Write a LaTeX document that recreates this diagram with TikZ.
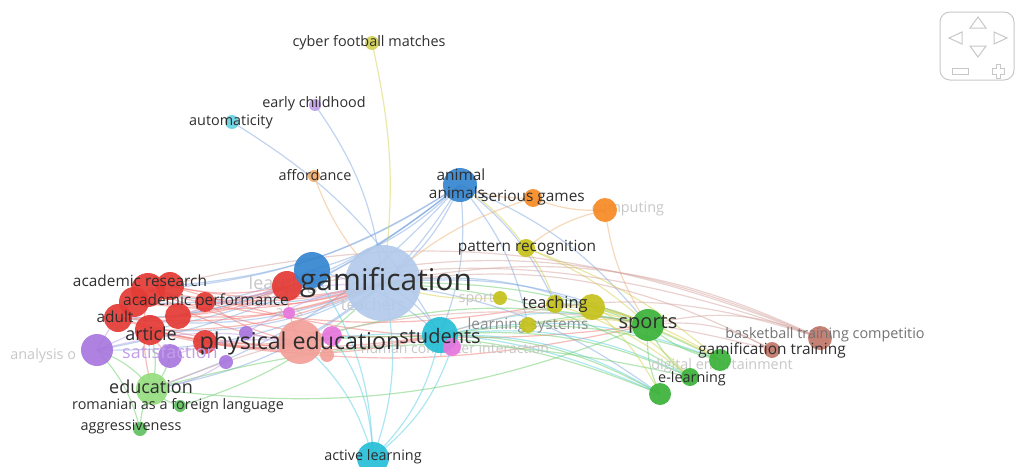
\documentclass[tikz,border=0pt]{standalone}
\usepackage{fontspec}
\setmainfont{Open Sans}
\usetikzlibrary{positioning}
\pgfdeclarelayer{edges}
\pgfdeclarelayer{faint}
\pgfdeclarelayer{front}
\pgfsetlayers{edges,faint,main,front}

\definecolor{vred}{RGB}{228,58,52}
\definecolor{vsalmon}{RGB}{243,160,152}
\definecolor{vlblue}{RGB}{178,202,234}
\definecolor{vblue}{RGB}{52,132,208}
\definecolor{vcyan}{RGB}{38,190,214}
\definecolor{vpink}{RGB}{232,118,222}
\definecolor{vpurple}{RGB}{168,118,222}
\definecolor{vorange}{RGB}{246,138,36}
\definecolor{vlorange}{RGB}{242,172,108}
\definecolor{vyellow}{RGB}{198,194,28}
\definecolor{vgreen}{RGB}{58,178,58}
\definecolor{vlgreen}{RGB}{150,220,128}
\definecolor{vbrown}{RGB}{192,118,104}
\definecolor{eblue}{RGB}{130,170,225}
\definecolor{ered}{RGB}{240,120,115}
\definecolor{ecyan}{RGB}{90,205,228}
\definecolor{egreen}{RGB}{110,205,110}
\definecolor{eyel}{RGB}{212,210,80}
\definecolor{eorange}{RGB}{238,178,118}
\definecolor{ebrown}{RGB}{212,165,160}
\definecolor{epurple}{RGB}{188,158,230}

\tikzstyle{bub} = [circle, inner sep=0pt, draw=none, fill opacity=0.92]
\tikzstyle{lab} = [inner sep=0pt, text=black!82, font=\fontsize{7.2}{8}\selectfont]
\tikzstyle{labm} = [lab, font=\fontsize{7.7}{9}\selectfont]
\tikzstyle{labl} = [lab, font=\fontsize{9}{10}\selectfont]
\tikzstyle{dim} = [lab, text=black!22]
\tikzstyle{edge} = [line width=0.6pt, draw opacity=0.5]
\tikzstyle{navline} = [draw=black!22, line width=0.5pt]

\begin{document}
\begin{tikzpicture}[x=0.5pt, y=-0.5pt]
\useasboundingbox (0,0) rectangle (1016,466);

% red cluster
\node (acres) [bub, fill=vred, minimum size=17pt] at (148,290) {};
\node (acres2) [bub, fill=vred, minimum size=14pt] at (170,286) {};
\node (acres3) [bub, fill=vred, minimum size=15pt] at (134,302) {};
\node (acperf) [bub, fill=vred, minimum size=10pt] at (205,302) {};
\node (red4) [bub, fill=vred, minimum size=13pt] at (178,316) {};
\node (adult) [bub, fill=vred, minimum size=14pt] at (118,318) {};
\node (article) [bub, fill=vred, minimum size=15pt] at (150,330) {};
\node (red6) [bub, fill=vred, minimum size=12pt] at (205,342) {};
\node (learn) [bub, fill=vred, minimum size=15pt] at (287,286) {};
\node (phyed) [bub, fill=vsalmon, minimum size=22pt] at (300,342) {};
\node (pink1) [bub, fill=vpink, minimum size=10pt] at (332,336) {};
\node (sal2) [bub, fill=vsalmon, minimum size=7pt] at (327,355) {};
% blue and cyan
\node (learnb) [bub, fill=vblue, minimum size=18pt] at (312,270) {};
\node (gam) [bub, fill=vlblue, minimum size=38pt] at (383,283) {};
\node (animal) [bub, fill=vblue, minimum size=17pt] at (460,185) {};
\node (stud) [bub, fill=vcyan, minimum size=18pt] at (440,335) {};
\node (actl) [bub, fill=vcyan, minimum size=16pt] at (373,458) {};
\node (autom) [bub, fill=vcyan!70, minimum size=7pt] at (232,122) {};
\node (hci) [bub, fill=vpink, minimum size=9pt] at (452,347) {};
\node (arcs) [bub, fill=vpink, minimum size=6pt] at (289,313) {};
% purple
\node (anal) [bub, fill=vpurple, minimum size=16pt] at (97,350) {};
\node (satis) [bub, fill=vpurple, minimum size=12pt] at (170,356) {};
\node (pur3) [bub, fill=vpurple, minimum size=7pt] at (246,333) {};
\node (pur4) [bub, fill=vpurple, minimum size=7pt] at (226,362) {};
\node (early) [bub, fill=vpurple!70, minimum size=6pt] at (315,105) {};
% orange and yellow
\node (afford) [bub, fill=vlorange, minimum size=6pt] at (314,176) {};
\node (serious) [bub, fill=vorange, minimum size=9pt] at (533,198) {};
\node (comput) [bub, fill=vorange, minimum size=12pt] at (605,210) {};
\node (cyber) [bub, fill=vyellow!75, minimum size=7pt] at (372,43) {};
\node (pattern) [bub, fill=vyellow, minimum size=9pt] at (526,248) {};
\node (sportsc) [bub, fill=vyellow, minimum size=7pt] at (500,298) {};
\node (lsys) [bub, fill=vyellow, minimum size=8pt] at (528,325) {};
\node (teach) [bub, fill=vyellow, minimum size=9pt] at (555,304) {};
\node (yel6) [bub, fill=vyellow, minimum size=13pt] at (592,307) {};
% green and brown
\node (sports) [bub, fill=vgreen, minimum size=16pt] at (648,325) {};
\node (educ) [bub, fill=vlgreen, minimum size=16pt] at (152,389) {};
\node (roman) [bub, fill=vgreen!80, minimum size=6pt] at (180,406) {};
\node (aggr) [bub, fill=vgreen!80, minimum size=7pt] at (140,429) {};
\node (gtrain) [bub, fill=vgreen, minimum size=11pt] at (720,360) {};
\node (elearn) [bub, fill=vgreen, minimum size=9pt] at (690,377) {};
\node (grn7) [bub, fill=vgreen, minimum size=11pt] at (660,394) {};
\node (basket) [bub, fill=vbrown, minimum size=12pt] at (820,338) {};
\node (gtrainb) [bub, fill=vbrown, minimum size=8pt] at (772,350) {};

\begin{pgfonlayer}{edges}
\foreach \a/\b in {animal/gam, animal/learnb, animal/acres, animal/article, animal/phyed, animal/stud,
    animal/sports, animal/teach, animal/educ, animal/anal, gam/acres, gam/article, gam/adult, gam/educ,
    gam/anal, learnb/acres3, learnb/adult, gam/sports, gam/yel6, early/gam, autom/stud, gam/grn7,
    animal/acres2, animal/red4, learnb/stud, gam/stud, animal/lsys}
  \draw[edge, eblue] (\a.center) to[bend left=14] (\b.center);
\foreach \a/\b in {acres/phyed, acres2/learn, adult/phyed, article/phyed, acres3/gam, red4/learn,
    acres/stud, article/stud, adult/learn, red6/phyed, acperf/gam, acres/educ, article/satis,
    learn/phyed, acres2/sports, acres/gam, acres2/gam, adult/gam, article/gam, acres/teach,
    article/sports, adult/stud, red4/gam, acres3/learn, acperf/phyed, red6/stud}
  \draw[edge, ered] (\a.center) to[bend right=12] (\b.center);
\foreach \a/\b in {stud/actl, gam/actl, phyed/actl, stud/elearn, stud/sports, stud/grn7, learnb/actl,
    pink1/actl, hci/actl, stud/gtrain, phyed/grn7}
  \draw[edge, ecyan] (\a.center) to[bend left=16] (\b.center);
\foreach \a/\b in {sports/gtrain, sports/elearn, sports/grn7, sports/teach, sports/lsys, educ/sports,
    educ/roman, educ/aggr, educ/anal, educ/article, educ/satis, grn7/stud, elearn/gam, gtrain/stud,
    grn7/phyed, elearn/educ, roman/gam, gtrain/gam, elearn/stud, sports/phyed, aggr/anal}
  \draw[edge, egreen] (\a.center) to[bend right=14] (\b.center);
\foreach \a/\b in {cyber/gam, pattern/sports, pattern/teach, animal/pattern, teach/sports,
    yel6/sports, yel6/grn7, lsys/sports, yel6/elearn, pattern/gtrain, sportsc/gam, teach/gtrain,
    yel6/gtrain, teach/elearn}
  \draw[edge, eyel] (\a.center) to[bend left=10] (\b.center);
\foreach \a/\b in {serious/comput, animal/serious, comput/sports, comput/pattern, afford/gam, serious/gam}
  \draw[edge, eorange] (\a.center) to[bend right=12] (\b.center);
\foreach \a/\b in {basket/sports, basket/gam, basket/acres, gtrainb/sports, basket/stud, gtrainb/educ,
    basket/learn, gtrainb/gam, basket/red4}
  \draw[edge, ebrown] (\a.center) to[bend right=18] (\b.center);
\foreach \a/\b in {anal/acres, anal/phyed, satis/phyed, pur3/gam, pur4/educ, anal/gam}
  \draw[edge, epurple] (\a.center) to[bend left=12] (\b.center);
\end{pgfonlayer}

\begin{pgfonlayer}{faint}
\node (learnt) [dim, font=\fontsize{9}{10}\selectfont] at (283,285) {learning};
\node (arcst) [dim] at (289,313) {arcs};
\node (teachers) [dim, font=\fontsize{8}{9}\selectfont] at (373,304) {teachers};
\node (sportst) [dim, anchor=east] at (505,299) {sport s};
\node (hcit) [dim, font=\fontsize{7}{8}\selectfont] at (455,350) {human computer interaction};
\node (comput-t) [dim] at (628,209) {computing};
\node (analt) [dim, anchor=west] at (10,356) {analysis o};
\node (digt) [dim] at (722,366) {digital entertainment};
\node (lsyst) [dim, text=black!45, font=\fontsize{7.7}{9}\selectfont] at (528,325) {learning systems};
\end{pgfonlayer}

\begin{pgfonlayer}{front}
\node (gamt) [lab, font=\fontsize{15}{16}\selectfont] at (386,283) {gamification};
\node (phyedt) [lab, font=\fontsize{11.6}{13}\selectfont] at (300,343) {physical education};
\node (studt) [lab, font=\fontsize{10}{11}\selectfont] at (440,336) {students};
\node (sportst2) [lab, font=\fontsize{10}{11}\selectfont] at (648,324) {sports};
\node (educt) [labl] at (151,387) {education};
\node (articlet) [labl] at (151,334) {article};
\node (adultt) [labm] at (115,317) {adult};
\node (acrest) [labm] at (140,281) {academic research};
\node (acperft) [labm] at (206,301) {academic performance};
\node (satist) [labl, text=vpurple!70] at (170,352) {satisfaction};
\node (teacht) [lab, font=\fontsize{8.2}{9}\selectfont] at (555,304) {teaching};
\node (pattert) [labm] at (527,248) {pattern recognition};
\node (seriost) [labm] at (533,198) {serious games};
\node (animalt) [labm] at (461,175) {animal};
\node (animalst) [labm] at (457,193) {animals};
\node (affordt) [lab] at (315,175) {affordance};
\node (automt) [lab] at (231,122) {automaticity};
\node (earlyt) [lab] at (314,104) {early childhood};
\node (cybert) [lab] at (369,43) {cyber football matches};
\node (romant) [lab] at (178,406) {romanian as a foreign language};
\node (aggrt) [lab] at (131,427) {aggressiveness};
\node (actlt) [lab] at (373,457) {active learning};
\node (elearnt) [lab] at (692,379) {e-learning};
\node (gtraint) [labm] at (772,350) {gamification training};
\node (baskett) [lab, text=black!55] at (825,335) {basketball training competitio};
\end{pgfonlayer}

% navigation panel
\draw[navline, rounded corners=5pt] (940,12) rectangle (1014,80);
\draw[navline] (970,28) -- (978,17) -- (986,28) -- cycle;
\draw[navline] (978,57) -- (970,46) -- (986,46) -- cycle;
\draw[navline] (949,38) -- (962,32) -- (962,44) -- cycle;
\draw[navline] (1007,38) -- (994,32) -- (994,44) -- cycle;
\draw[navline] (952,68) rectangle (968,74);
\draw[navline] (992,68) -- (996,68) -- (996,64) -- (1000,64) -- (1000,68) -- (1004,68) -- (1004,74)
  -- (1000,74) -- (1000,78) -- (996,78) -- (996,74) -- (992,74) -- cycle;
\end{tikzpicture}
\end{document}
